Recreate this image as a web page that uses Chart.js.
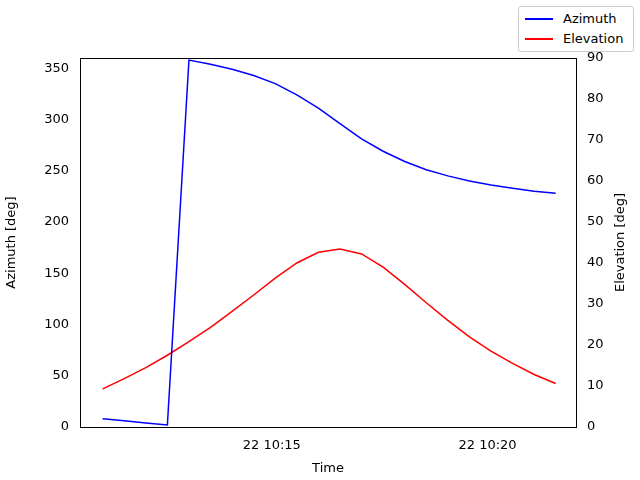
<!DOCTYPE html>
<html><head><meta charset="utf-8">
<script src="https://cdn.jsdelivr.net/npm/chart.js@4"></script>
<style>
body{margin:0;background:#fff;font-family:"DejaVu Sans",sans-serif;}
#wrap{position:relative;width:640px;height:480px;}
#leg{position:absolute;left:518px;top:6px;width:116px;height:46px;border:1px solid #ccc;border-radius:3px;background:#fff;font-size:13px;box-sizing:border-box;}
.it{position:absolute;left:6px;display:flex;align-items:center;}
.ln{width:28px;height:2px;margin-right:10px;}
</style></head><body>
<div id="wrap"><canvas id="c" width="640" height="480"></canvas>
<div id="leg"><div class="it" style="top:4px"><div class="ln" style="background:blue"></div>Azimuth</div><div class="it" style="top:24px"><div class="ln" style="background:red"></div>Elevation</div></div></div>
<script>
const startMin = 11.08; // minutes after 10:00
const stepMin = 0.5;
const azimuth = [8,6,4,2,358,354,349,343,335,324,311,296,281,269,259,251,245,240,236,233,230,228];
const elevation = [9.3,11.8,14.5,17.5,20.8,24.3,28.2,32.2,36.3,40.0,42.6,43.4,42.2,39.0,34.8,30.3,26.0,22.0,18.5,15.5,12.8,10.6];
const timeTicks = [15,20];
const tickLabels = ["22 10:15","22 10:20"];
const azTicks = [0,50,100,150,200,250,300,350];
const times = azimuth.map((_,i)=>startMin+i*stepMin);
const f = {family:"DejaVu Sans",size:13};
const box = {id:'box',afterDraw(ch){const a=ch.chartArea,c=ch.ctx;c.save();c.strokeStyle='#000';c.lineWidth=1;
 c.strokeRect(Math.round(a.left)+0.5,Math.round(a.top)+0.5,Math.round(a.right-a.left),Math.round(a.bottom-a.top));
 c.fillStyle='#000';c.font='13px "DejaVu Sans"';c.textAlign='center';c.textBaseline='middle';
 c.translate(621,(a.top+a.bottom)/2);c.rotate(-Math.PI/2);c.fillText('Elevation [deg]',0,0);c.restore();}};
new Chart(document.getElementById('c'),{
type:'line',
data:{datasets:[
{label:'Azimuth',data:times.map((t,i)=>({x:t,y:azimuth[i]})),borderColor:'blue',borderWidth:1.5,pointRadius:0,yAxisID:'y',tension:0},
{label:'Elevation',data:times.map((t,i)=>({x:t,y:elevation[i]})),borderColor:'red',borderWidth:1.5,pointRadius:0,yAxisID:'y2',tension:0}]},
plugins:[box],
options:{responsive:false,animation:false,
layout:{padding:{left:0,right:0,top:58,bottom:0}},
plugins:{legend:{display:false},tooltip:{enabled:false}},
scales:{
x:{type:'linear',min:10.555,max:22.05,grid:{display:false},border:{color:'#000'},
 afterBuildTicks:a=>{a.ticks=timeTicks.map(v=>({value:v}));},
 afterFit:s=>{s.height=53;},
 ticks:{color:'#000',font:f,maxRotation:0,callback:(v)=>tickLabels[timeTicks.indexOf(v)]},
 title:{display:true,text:'Time',color:'#000',font:f,padding:{top:2}}},
y:{position:'left',min:0,max:360,grid:{display:false},border:{color:'#000'},
 afterBuildTicks:a=>{a.ticks=azTicks.map(v=>({value:v}));},
 afterFit:s=>{s.width=80;},
 ticks:{color:'#000',font:f},title:{display:true,text:'Azimuth [deg]',color:'#000',font:f}},
y2:{position:'right',min:0,max:90,grid:{display:false},border:{color:'#000'},
 afterFit:s=>{s.width=64;},
 ticks:{stepSize:10,color:'#000',font:f},title:{display:false}}
}}});
</script></body></html>
